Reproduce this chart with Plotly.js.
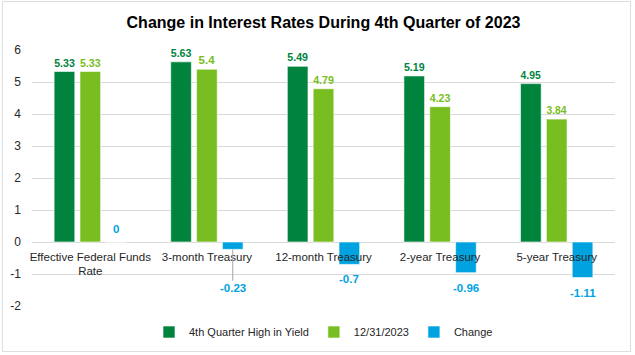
<!DOCTYPE html>
<html>
<head>
<meta charset="utf-8">
<script src="https://cdn.plot.ly/plotly-3.0.1.min.js"></script>
<style>
  html, body { margin: 0; padding: 0; background: #fff; }
  #wrap { position: relative; width: 635px; height: 355px; }
  #chart { width: 635px; height: 355px; }
  #frame { position: absolute; left: 2px; top: 1px; width: 627px; height: 349px; border: 1px solid #dedede; pointer-events: none; }
</style>
</head>
<body>
<div id="wrap"><div id="chart"></div><div id="frame"></div></div>
<script>
const categories = ["Effective Federal Funds Rate", "3-month Treasury", "12-month Treasury", "2-year Treasury", "5-year Treasury"];
const tickLabels = ["Effective Federal Funds<br>Rate", "3-month Treasury", "12-month Treasury", "2-year Treasury", "5-year Treasury"];
const highYield = [5.33, 5.63, 5.49, 5.19, 4.95];
const yearEnd = [5.33, 5.4, 4.79, 4.23, 3.84];
const change = [0, -0.23, -0.7, -0.96, -1.11];
const seriesNames = ["4th Quarter High in Yield", "12/31/2023", "Change"];
const yTicks = [-2, -1, 0, 1, 2, 3, 4, 5, 6];

const FONT = '"Liberation Sans Narrow", "Arial Narrow", "Liberation Sans", Arial, sans-serif';
const C_DARK = '#00843d';
const C_LIGHT = '#78be21';
const C_BLUE = '#00a3e0';

const bargap = 0.335, bargroupgap = 0.2;

const traces = [
  {
    type: 'bar', name: seriesNames[0], x: categories, y: highYield,
    marker: { color: C_DARK, line: { color: 'rgba(255,255,255,0.6)', width: 1 } },
    text: highYield.map(String), textposition: 'outside', cliponaxis: false,
    textfont: { family: FONT, size: 11.5, color: C_DARK, weight: 'bold' },
    hoverinfo: 'none'
  },
  {
    type: 'bar', name: seriesNames[1], x: categories, y: yearEnd,
    marker: { color: C_LIGHT, line: { color: 'rgba(255,255,255,0.6)', width: 1 } },
    text: yearEnd.map(String), textposition: 'outside', cliponaxis: false,
    textfont: { family: FONT, size: 11.5, color: C_LIGHT, weight: 'bold' },
    hoverinfo: 'none'
  },
  {
    type: 'bar', name: seriesNames[2], x: categories, y: change,
    marker: { color: C_BLUE, line: { color: 'rgba(255,255,255,0.6)', width: 1 } },
    hoverinfo: 'none'
  }
];

// plot geometry (for slot offset of the Change labels)
const W = 635, ML = 32, MR = 20;
const catW = (W - ML - MR) / categories.length;
const slot = catW * (1 - bargap) / 3;

const annotations = change.map((v, i) => {
  const base = {
    x: categories[i], y: v, xref: 'x', yref: 'y', xshift: slot,
    text: String(v), font: { family: FONT, size: 11.5, color: C_BLUE, weight: 'bold' }
  };
  if (v >= 0) {
    return Object.assign(base, { showarrow: false, yanchor: 'bottom', yshift: 5 });
  }
  if (Math.abs(v) < 0.5) {
    return Object.assign(base, { showarrow: true, arrowhead: 0, arrowwidth: 1, arrowcolor: '#a6a6a6', ax: 0, ay: 39, standoff: 0, startstandoff: 0 });
  }
  return Object.assign(base, { showarrow: false, yanchor: 'top', yshift: -7 });
});

const layout = {
  width: 635, height: 355,
  margin: { l: ML, r: MR, t: 50, b: 49, pad: 0, autoexpand: false },
  paper_bgcolor: '#ffffff', plot_bgcolor: '#ffffff',
  font: { family: FONT, size: 11, color: '#262626' },
  title: {
    text: '<b>Change in Interest Rates During 4th Quarter of 2023</b>',
    font: { family: FONT, size: 16, color: '#000000' },
    x: 0.5, xanchor: 'center', xref: 'paper', y: 1 - 22 / 355, yanchor: 'middle', yref: 'container'
  },
  barmode: 'group', bargap: bargap, bargroupgap: bargroupgap,
  showlegend: true,
  legend: {
    orientation: 'h', x: 0.5, xanchor: 'center', y: -0.045, yanchor: 'top',
    font: { family: FONT, size: 11, color: '#262626' },
    itemwidth: 30, tracegroupgap: 0, traceorder: 'normal'
  },
  xaxis: {
    type: 'category', anchor: 'free', position: 0.25,
    tickmode: 'array', tickvals: categories, ticktext: tickLabels, tickangle: 0,
    showgrid: false, showline: false, zeroline: false, ticks: '', automargin: false,
    ticklabelstandoff: 6,
    tickfont: { family: FONT, size: 11.5, color: '#262626' },
    fixedrange: true
  },
  yaxis: {
    range: [-2, 6], tickmode: 'array', tickvals: yTicks, ticktext: yTicks.map(String),
    showgrid: true, gridcolor: '#d9d9d9', gridwidth: 1,
    zeroline: true, zerolinecolor: '#d9d9d9', zerolinewidth: 1,
    showline: false, ticks: '', ticklabelstandoff: 10, automargin: false,
    tickfont: { family: FONT, size: 12, color: '#262626' },
    fixedrange: true
  },
  annotations: annotations
};

Plotly.newPlot('chart', traces, layout, { displayModeBar: false, staticPlot: true });
</script>
</body>
</html>
